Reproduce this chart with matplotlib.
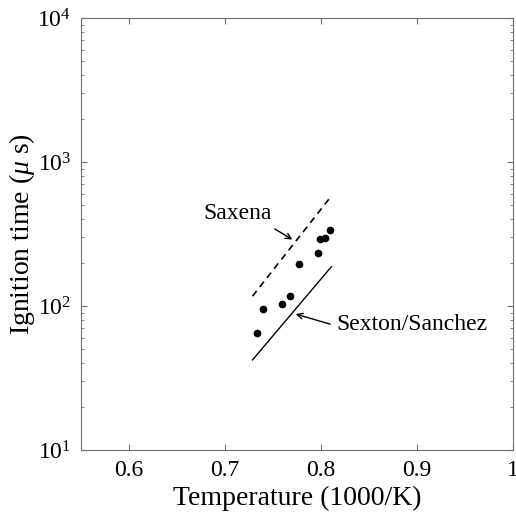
import numpy as np
import matplotlib
matplotlib.use('Agg')
import matplotlib.pyplot as plt
from matplotlib.ticker import LogLocator, FixedLocator, NullLocator

plt.rcParams['font.family'] = ['Liberation Serif', 'DejaVu Serif']
plt.rcParams['mathtext.fontset'] = 'custom'
plt.rcParams['mathtext.rm'] = 'Liberation Serif'
plt.rcParams['mathtext.it'] = 'Liberation Serif:italic'

# measured ignition times
temp_meas = [0.7335, 0.7397, 0.7599, 0.7675, 0.7772, 0.7973, 0.7987, 0.8046, 0.8098]
tau_meas = [65, 95, 103, 117, 196, 232, 290, 298, 337]

# correlations (end points)
temp_corr = [0.7287, 0.8109]
tau_saxena = [117, 581]
tau_sexton = [42.2, 187.5]

gray = '#6e6e6e'

fig = plt.figure(figsize=(5.16, 5.22), dpi=100)
ax = fig.add_axes([0.157, 0.138, 0.837, 0.8275])

ax.plot(temp_corr, tau_saxena, 'k--', lw=1.2, dashes=(4, 3))
ax.plot(temp_corr, tau_sexton, 'k-', lw=1.0)
ax.plot(temp_meas, tau_meas, 'ko', ms=4.5, ls='none')

ax.set_yscale('log')
ax.set_xlim(0.55, 1.0)
ax.set_ylim(10, 1e4)
ax.xaxis.set_major_locator(FixedLocator([0.6, 0.7, 0.8, 0.9, 1.0]))
ax.xaxis.set_minor_locator(NullLocator())
ax.set_xticklabels(['0.6', '0.7', '0.8', '0.9', '1'])
ax.yaxis.set_major_locator(LogLocator(base=10, numticks=10))
ax.yaxis.set_minor_locator(LogLocator(base=10, subs=np.arange(2, 10), numticks=10))

ax.tick_params(which='both', direction='in', top=True, right=True, color=gray)
ax.tick_params(which='major', length=4, labelsize=17, pad=7)
ax.tick_params(which='minor', length=2.5)
for s in ax.spines.values():
    s.set_color(gray)
    s.set_linewidth(0.8)

ax.set_xlabel('Temperature (1000/K)', fontsize=20, labelpad=4)
ax.set_ylabel(r'Ignition time ($\mu$ s)', fontsize=20, labelpad=0)

# annotations
ax.annotate('', xy=(0.7727, 282.7), xytext=(0.7493, 351),
            arrowprops=dict(arrowstyle='->', color='k', lw=1.0, mutation_scale=10))
ax.text(0.677, 440, 'Saxena', fontsize=17, va='center', ha='left')
ax.annotate('', xy=(0.7709, 89), xytext=(0.8125, 73.8),
            arrowprops=dict(arrowstyle='->', color='k', lw=1.0, mutation_scale=10))
ax.text(0.8164, 73.8, 'Sexton/Sanchez', fontsize=17, va='center', ha='left')

fig.savefig('out.png', dpi=100)
